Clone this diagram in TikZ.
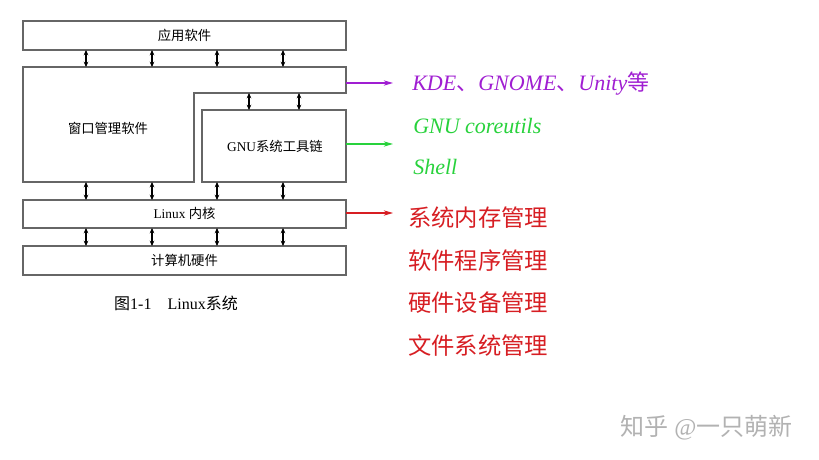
\documentclass[tikz,border=0pt]{standalone}
\usepackage{fontspec}
\setmainfont{Liberation Serif}
\newfontfamily\cjk{Noto Sans CJK SC}
\usetikzlibrary{arrows.meta}
\definecolor{pur}{RGB}{160,30,210}
\definecolor{grn}{RGB}{40,210,60}
\definecolor{rd}{RGB}{215,30,35}
\begin{document}
\begin{tikzpicture}[x=0.75pt,y=-0.75pt,
  box/.style={draw=black!60,line width=1.3pt},
  dbl/.style={{Stealth[length=4pt,width=3.5pt]}-{Stealth[length=4pt,width=3.5pt]},line width=0.8pt},
  outarr/.style={-{Stealth[length=7pt,width=4pt]},line width=0.8pt},
  lbl/.style={font=\fontsize{10}{12}\selectfont,inner sep=0pt},
  big/.style={font=\fontsize{16.5}{19}\selectfont,anchor=west,inner sep=0pt},
  bigc/.style={font=\fontsize{17.5}{19}\selectfont,anchor=west,inner sep=0pt}]
\useasboundingbox[fill=white] (0,0) rectangle (819,460);
\draw[box] (23,21) rectangle (346,50);
\node[lbl] (app) at (184.5,35) {\cjk 应用软件};
\draw[box] (23,67) -- (346,67) -- (346,93) -- (194,93) -- (194,182) -- (23,182) -- cycle;
\node[lbl] (wm) at (108,128) {\cjk 窗口管理软件};
\draw[box] (202,110) rectangle (346,182);
\node[lbl] (gnu) at (275,146) {GNU{\cjk 系统工具链}};
\draw[box] (23,200) rectangle (346,228);
\node[lbl] (kern) at (184.5,213) {Linux {\cjk 内核}};
\draw[box] (23,246) rectangle (346,275);
\node[lbl] (hw) at (184.5,260) {\cjk 计算机硬件};
\foreach \x in {86,152,217,283}{
  \draw[dbl] (\x,50) -- (\x,67);
  \draw[dbl] (\x,182) -- (\x,200);
  \draw[dbl] (\x,228) -- (\x,246);
}
\foreach \x in {249,299}{\draw[dbl] (\x,93) -- (\x,110);}
\node[font=\fontsize{12}{14}\selectfont] (cap) at (176,303) {{\cjk 图}1-1\quad Linux{\cjk 系统}};
\coordinate (p1) at (346,83); \coordinate (p2) at (393,83);
\draw[outarr,draw=pur,color=pur] (p1) -- (p2);
\coordinate (g1) at (346,144); \coordinate (g2) at (393,144);
\draw[outarr,draw=grn,color=grn] (g1) -- (g2);
\coordinate (r1) at (346,213); \coordinate (r2) at (393,213);
\draw[outarr,draw=rd,color=rd] (r1) -- (r2);
\node[big,text=pur] (kde) at (412,84) {\textit{KDE}{\cjk 、}\textit{GNOME}{\cjk 、}\textit{Unity}{\cjk 等}};
\node[big,text=grn] (core) at (413,126) {\textit{GNU coreutils}};
\node[big,text=grn] (sh) at (413,167) {\textit{Shell}};
\node[bigc,text=rd] (m1) at (408,218) {\cjk 系统内存管理};
\node[bigc,text=rd] (m2) at (408,261) {\cjk 软件程序管理};
\node[bigc,text=rd] (m3) at (408,303) {\cjk 硬件设备管理};
\node[bigc,text=rd] (m4) at (408,346) {\cjk 文件系统管理};
\node[font=\fontsize{18}{20}\selectfont,text=black!30,anchor=west,inner sep=0pt] (wmk) at (620,428) {{\cjk 知乎} @{\cjk 一只萌新}};
\end{tikzpicture}
\end{document}
